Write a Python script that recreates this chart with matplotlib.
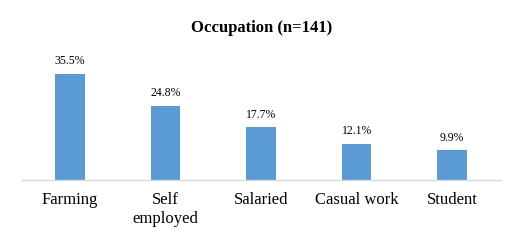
import matplotlib.pyplot as plt

# data
categories = ['Farming', 'Self\nemployed', 'Salaried', 'Casual work', 'Student']
percent = [35.5, 24.8, 17.7, 12.1, 9.9]

plt.rcParams['font.family'] = ['Liberation Serif', 'DejaVu Serif']

fig = plt.figure(figsize=(5.29, 2.42), dpi=100)
# plot area: x 22..500 px, baseline at y=180, top at y=60
ax = fig.add_axes([22 / 529, 1 - 180 / 242, 478 / 529, 120 / 242])

x = range(len(categories))
bars = ax.bar(x, percent, width=0.31, color='#5B9BD5')

for b, v in zip(bars, percent):
    ax.annotate('%.1f%%' % v, (b.get_x() + b.get_width() / 2, v),
                xytext=(0, 4.5), textcoords='offset points',
                ha='center', va='bottom', fontsize=8.5)

ax.set_xlim(-0.5, len(categories) - 0.5)
ax.set_ylim(0, 40)
ax.set_xticks(list(x))
ax.set_xticklabels(categories, fontsize=12, linespacing=1.2)
ax.tick_params(axis='x', length=0, pad=9)
ax.set_yticks([])

for s in ['top', 'right', 'left']:
    ax.spines[s].set_visible(False)
ax.spines['bottom'].set_color('#D9D9D9')
ax.spines['bottom'].set_linewidth(1)

fig.text(262 / 529, 1 - 28 / 242, 'Occupation (n=141)', ha='center', va='center',
         fontsize=12, fontweight='bold')

fig.savefig('out.png', dpi=100)
